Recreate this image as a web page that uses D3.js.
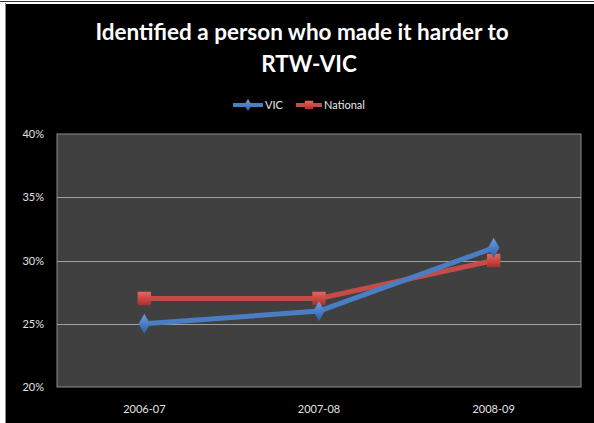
<!DOCTYPE html>
<html>
<head>
<meta charset="utf-8">
<script src="https://cdn.jsdelivr.net/npm/d3@7"></script>
<style>
  html, body { margin: 0; padding: 0; background: #ffffff; }
  svg { display: block; }
</style>
</head>
<body>
<svg id="chart" width="594" height="423"></svg>
<script>
// Survey periods and share of respondents (%)
const periods = ["2006-07", "2007-08", "2008-09"];
const vicValues = [25, 26, 31];
const nationalValues = [27, 27, 30];
const seriesNames = ["VIC", "National"];
const yTicks = [20, 25, 30, 35, 40];

const W = 594, H = 423;
const plot = { left: 57, right: 581, top: 134, bottom: 387 };

const svg = d3.select("#chart");

// Outer frame: white margin with thin rules, then a black chart area
svg.append("rect").attr("width", W).attr("height", H).attr("fill", "#ffffff");
svg.append("rect").attr("x", 6).attr("y", 4).attr("width", W - 6).attr("height", H - 4).attr("fill", "#000000");
svg.append("line").attr("x1", 5.5).attr("x2", 5.5).attr("y1", 3).attr("y2", H).attr("stroke", "#8a8a8a").attr("stroke-width", 1);
svg.append("line").attr("x1", 0).attr("x2", W).attr("y1", 1.5).attr("y2", 1.5).attr("stroke", "#333").attr("stroke-width", 1);

const x = d3.scaleBand().domain(periods).range([plot.left, plot.right]);
const y = d3.scaleLinear().domain([20, 40]).range([plot.bottom, plot.top]);

// Plot area
svg.append("rect")
  .attr("x", plot.left).attr("y", plot.top)
  .attr("width", plot.right - plot.left).attr("height", plot.bottom - plot.top)
  .attr("fill", "#404040").attr("stroke", "#8c8c8c").attr("stroke-width", 1);

// Horizontal gridlines
svg.append("g").selectAll("line").data(yTicks.slice(1, -1)).join("line")
  .attr("x1", plot.left).attr("x2", plot.right)
  .attr("y1", d => Math.round(y(d)) + 0.5).attr("y2", d => Math.round(y(d)) + 0.5)
  .attr("stroke", "#a0a0a0").attr("stroke-width", 1);

const labelFont = "Lato, 'Open Sans', sans-serif";

// Y axis
const yAxis = svg.append("g")
  .attr("transform", `translate(${plot.left},0)`)
  .call(d3.axisLeft(y).tickValues(yTicks).tickFormat(d => d + "%").tickSize(0).tickPadding(13));
yAxis.select(".domain").remove();
yAxis.selectAll("text")
  .attr("fill", "#e2e2e2").style("font-family", labelFont).style("font-size", "11px");

// X axis
const xAxis = svg.append("g")
  .attr("transform", `translate(0,${plot.bottom})`)
  .call(d3.axisBottom(x).tickSize(0).tickPadding(18));
xAxis.select(".domain").remove();
xAxis.selectAll("text")
  .attr("fill", "#e2e2e2").style("font-family", labelFont).style("font-size", "11px");

// Title
const title = svg.append("text")
  .attr("text-anchor", "middle")
  .attr("fill", "#ffffff")
  .style("font-family", labelFont)
  .style("font-weight", "bold").style("font-size", "22.5px");
title.append("tspan").attr("x", 302).attr("y", 40).text("Identified a person who made it harder to");
title.append("tspan").attr("x", 309).attr("y", 72).text("RTW-VIC");

// Gradients for markers
const defs = svg.append("defs");
function grad(id, light, dark) {
  const g = defs.append("linearGradient").attr("id", id).attr("x1", 0).attr("y1", 0).attr("x2", 0).attr("y2", 1);
  g.append("stop").attr("offset", "0%").attr("stop-color", light);
  g.append("stop").attr("offset", "100%").attr("stop-color", dark);
}
grad("gBlue", "#6b9be0", "#2f5fa8");
grad("gRed", "#e8645f", "#a8302c");

const series = [
  { name: seriesNames[0], values: vicValues, line: "#4a7ec2", fill: "url(#gBlue)", symbol: d3.symbolDiamond, size: 115 },
  { name: seriesNames[1], values: nationalValues, line: "#c34c49", fill: "url(#gRed)", symbol: d3.symbolSquare, size: 180 }
];

const lineGen = d3.line().x(d => x(d.p) + x.bandwidth() / 2).y(d => y(d.v));

// Draw National first so VIC sits on top
[series[1], series[0]].forEach(s => {
  const pts = periods.map((p, i) => ({ p, v: s.values[i] }));
  svg.append("path").datum(pts)
    .attr("d", lineGen).attr("fill", "none")
    .attr("stroke", s.line).attr("stroke-width", 5).attr("stroke-linejoin", "round");
  svg.append("g").selectAll("path").data(pts).join("path")
    .attr("transform", d => `translate(${x(d.p) + x.bandwidth() / 2},${y(d.v)})`)
    .attr("d", d3.symbol().type(s.symbol).size(s.size))
    .attr("fill", s.fill);
});

// Legend
const legend = svg.append("g").style("font-family", labelFont).style("font-size", "11px");
const legendItems = [
  { s: series[0], x0: 233, x1: 263, tx: 265 },
  { s: series[1], x0: 296, x1: 322, tx: 324 }
];
legendItems.forEach(it => {
  const ly = 105;
  legend.append("line").attr("x1", it.x0).attr("x2", it.x1).attr("y1", ly).attr("y2", ly)
    .attr("stroke", it.s.line).attr("stroke-width", 4);
  legend.append("path")
    .attr("transform", `translate(${(it.x0 + it.x1) / 2},${ly})`)
    .attr("d", d3.symbol().type(it.s.symbol).size(it.s.size * 0.4))
    .attr("fill", it.s.fill);
  legend.append("text").attr("x", it.tx).attr("y", ly + 4).attr("fill", "#e8e8e8").text(it.s.name);
});
</script>
</body>
</html>
